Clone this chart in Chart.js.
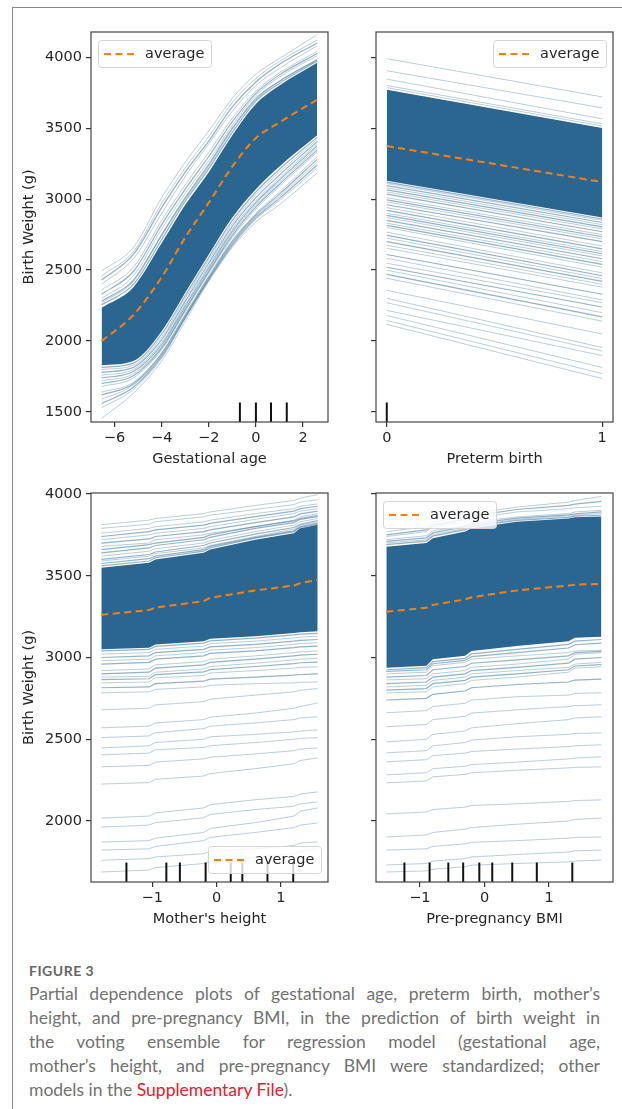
<!DOCTYPE html>
<html>
<head>
<meta charset="utf-8">
<script src="https://cdn.jsdelivr.net/npm/chart.js@4.4.1/dist/chart.umd.min.js"></script>
<style>
  body { margin: 0; background: #fff; width: 622px; height: 1109px; position: relative; overflow: hidden; }
  canvas { position: absolute; }
  #frame { position: absolute; left: 12px; top: 7px; width: 620px; height: 1110px;
           border-left: 1px solid #8a8a8a; border-top: 1px solid #8a8a8a; }
  #caption { position: absolute; left: 29px; top: 962px; width: 571px;
             font-family: Lato, sans-serif; color: #727272; }
  #caption .fig { font-size: 14px; font-weight: 700; letter-spacing: 0.5px; line-height: 18px; color: #666; }
  #caption .ln { font-size: 17.5px; line-height: 24px; white-space: nowrap;
                 text-align: justify; text-align-last: justify; }
  #caption .ln.last { text-align: left; text-align-last: left; }
  #caption .ln.first { margin-top: 2px; }
  .red { color: #e0202a; }
</style>
</head>
<body>
<div id="frame"></div>
<canvas id="c1" width="330" height="480" style="left:0;top:0"></canvas>
<canvas id="c2" width="292" height="480" style="left:330px;top:0"></canvas>
<canvas id="c3" width="330" height="460" style="left:0;top:480px"></canvas>
<canvas id="c4" width="292" height="460" style="left:330px;top:480px"></canvas>
<div id="caption">
  <div class="fig">FIGURE 3</div>
  <div class="ln first">Partial dependence plots of gestational age, preterm birth, mother’s</div>
  <div class="ln">height, and pre-pregnancy BMI, in the prediction of birth weight in</div>
  <div class="ln">the voting ensemble for regression model (gestational age,</div>
  <div class="ln">mother’s height, and pre-pregnancy BMI were standardized; other</div>
  <div class="ln last">models in the <span class="red">Supplementary File</span>).</div>
</div>
<script>
// gestational age panel
const gaX = [-6.55, -5.2, -4.0, -3.0, -2.0, -1.0, 0, 1.0, 2.6];
const gaAvg = [2000, 2184, 2450, 2730, 2975, 3230, 3430, 3540, 3700];
const gaHi = [2235, 2380, 2690, 2960, 3190, 3450, 3670, 3800, 3960];
const gaLo = [1830, 1860, 2070, 2340, 2610, 2870, 3070, 3230, 3450];
const gaLines = [
    [2494, 2660, 3010, 3260, 3480, 3710, 3880, 3990, 4158],
    [2460, 2630, 2970, 3220, 3440, 3680, 3850, 3970, 4120],
    [2400, 2580, 2900, 3160, 3390, 3620, 3800, 3920, 4080],
    [2360, 2520, 2850, 3100, 3330, 3570, 3760, 3890, 4040],
    [2300, 2460, 2790, 3040, 3270, 3520, 3730, 3860, 4010],
    [2270, 2420, 2740, 3000, 3230, 3490, 3700, 3830, 3985],
    [1800, 1830, 2030, 2300, 2570, 2830, 3030, 3190, 3420],
    [1760, 1800, 1990, 2260, 2530, 2790, 2990, 3150, 3390],
    [1720, 1770, 1960, 2230, 2500, 2760, 2960, 3120, 3360],
    [1680, 1740, 1940, 2210, 2480, 2730, 2930, 3090, 3330],
    [1640, 1710, 1920, 2190, 2460, 2710, 2900, 3050, 3300],
    [1590, 1690, 1900, 2170, 2440, 2690, 2880, 3020, 3260],
    [1530, 1660, 1880, 2160, 2430, 2670, 2860, 2990, 3220],
    [1456, 1633, 1860, 2140, 2420, 2660, 2840, 2960, 3184]
];
const gaEdge = [
    [2255, 2400, 2715, 2985, 3215, 3470, 3690, 3815, 3972],
    [2280, 2430, 2750, 3010, 3245, 3500, 3710, 3830, 3980],
    [2330, 2490, 2820, 3070, 3300, 3545, 3745, 3875, 4025],
    [2430, 2610, 2940, 3190, 3410, 3650, 3825, 3950, 4100],
    [1815, 1845, 2050, 2320, 2590, 2850, 3050, 3210, 3435],
    [1780, 1815, 2010, 2280, 2550, 2810, 3010, 3170, 3405],
    [1740, 1785, 1975, 2245, 2515, 2775, 2975, 3135, 3375],
    [1700, 1755, 1950, 2220, 2490, 2745, 2945, 3105, 3345],
    [1620, 1700, 1910, 2180, 2450, 2700, 2890, 3035, 3280],
    [1560, 1675, 1890, 2165, 2435, 2680, 2870, 3005, 3240]
];
const gaDeciles = [-0.68, 0, 0.64, 1.31];
const gaTicks = [-6, -4, -2, 0, 2];

// preterm birth panel
const ptX = [0, 1];
const ptAvg = [3374, 3120];
const ptHi = [3770, 3500];
const ptLo = [3130, 2870];
const ptLines = [
    [3989, 3720], [3904, 3643], [3845, 3565], [3800, 3530], [3785, 3515],
    [3110, 2850], [3080, 2820], [3050, 2790], [3010, 2750], [2980, 2720],
    [2940, 2670], [2900, 2630], [2870, 2600], [2830, 2560], [2800, 2520],
    [2767, 2480], [2725, 2440], [2675, 2400], [2654, 2380], [2583, 2290],
    [2548, 2270], [2499, 2200], [2442, 2140], [2357, 2050], [2301, 1955],
    [2270, 1930], [2216, 1898], [2180, 1814], [2145, 1771], [2117, 1736]
];
const ptEdge = [
    [3120, 2860], [3095, 2835], [3065, 2805], [3035, 2770], [2995, 2735],
    [2960, 2700], [2920, 2650], [2885, 2615], [2850, 2580], [2815, 2540],
    [2745, 2460], [2700, 2420], [2610, 2330], [2520, 2240], [2470, 2170]
];
const ptDeciles = [0];
const ptTicks = [0, 1];

// mother's height panel
const mhX = [-1.79, -1.05, -0.95, -0.2, -0.1, 0.6, 1.2, 1.3, 1.57];
const mhAvg = [3261, 3290, 3305, 3345, 3365, 3410, 3440, 3455, 3475];
const mhHi = [3549, 3580, 3600, 3640, 3660, 3720, 3760, 3790, 3812];
const mhLo = [3050, 3060, 3080, 3100, 3115, 3130, 3150, 3155, 3160];
const mhLines = [
    [3812, 3840, 3850, 3880, 3890, 3930, 3960, 3975, 3996],
    [3790, 3815, 3830, 3860, 3870, 3905, 3935, 3950, 3965],
    [3760, 3790, 3800, 3830, 3840, 3880, 3910, 3925, 3940],
    [3720, 3750, 3760, 3790, 3800, 3845, 3880, 3895, 3910],
    [3680, 3700, 3720, 3750, 3760, 3800, 3840, 3860, 3880],
    [3620, 3650, 3665, 3700, 3715, 3770, 3810, 3830, 3850],
    [3590, 3620, 3635, 3670, 3685, 3740, 3785, 3810, 3830],
    [3020, 3030, 3050, 3070, 3085, 3100, 3120, 3125, 3130],
    [2980, 2990, 3010, 3030, 3045, 3060, 3080, 3085, 3090],
    [2920, 2930, 2955, 2975, 2990, 3010, 3030, 3035, 3040],
    [2880, 2885, 2910, 2930, 2945, 2965, 2985, 2990, 2995],
    [2845, 2850, 2875, 2890, 2905, 2920, 2935, 2940, 2943],
    [2784, 2790, 2805, 2820, 2830, 2840, 2845, 2848, 2850],
    [2680, 2690, 2710, 2730, 2745, 2770, 2790, 2800, 2810],
    [2570, 2580, 2600, 2620, 2635, 2660, 2690, 2700, 2722],
    [2510, 2520, 2540, 2565, 2580, 2600, 2620, 2630, 2637],
    [2447, 2460, 2480, 2500, 2515, 2530, 2545, 2550, 2557],
    [2405, 2415, 2435, 2450, 2460, 2480, 2500, 2505, 2510],
    [2332, 2340, 2360, 2380, 2390, 2410, 2430, 2440, 2447],
    [2226, 2235, 2255, 2275, 2290, 2320, 2350, 2370, 2386],
    [2018, 2030, 2050, 2080, 2100, 2130, 2150, 2165, 2178],
    [1963, 1975, 1990, 2020, 2040, 2070, 2090, 2105, 2116],
    [1871, 1880, 1895, 1930, 1955, 1990, 2030, 2060, 2080],
    [1822, 1830, 1845, 1880, 1900, 1930, 1960, 1975, 1988],
    [1760, 1770, 1780, 1800, 1815, 1830, 1850, 1865, 1872],
    [1688, 1700, 1715, 1740, 1755, 1780, 1800, 1815, 1830]
];
const mhEdge = [
    [3560, 3590, 3610, 3650, 3670, 3730, 3770, 3795, 3815],
    [3575, 3605, 3620, 3660, 3680, 3735, 3775, 3800, 3822],
    [3600, 3630, 3645, 3685, 3700, 3755, 3795, 3815, 3838],
    [3640, 3670, 3685, 3720, 3735, 3790, 3825, 3845, 3862],
    [3660, 3690, 3700, 3735, 3750, 3800, 3835, 3850, 3870],
    [3700, 3725, 3740, 3770, 3780, 3825, 3860, 3878, 3895],
    [3740, 3770, 3780, 3810, 3820, 3862, 3895, 3910, 3925],
    [3040, 3050, 3068, 3088, 3102, 3118, 3138, 3143, 3148],
    [3000, 3010, 3030, 3050, 3065, 3080, 3100, 3105, 3110],
    [2960, 2970, 2990, 3010, 3025, 3040, 3060, 3065, 3070],
    [2900, 2910, 2935, 2955, 2970, 2990, 3010, 3015, 3020],
    [2865, 2870, 2895, 2912, 2926, 2945, 2962, 2968, 2972],
    [2815, 2820, 2840, 2855, 2868, 2880, 2892, 2896, 2900]
];
const mhDeciles = [-1.40, -0.78, -0.57, -0.17, 0.22, 0.40, 0.79, 1.19];
const mhTicks = [-1, 0, 1];

// pre-pregnancy BMI panel
const bmiX = [-1.52, -0.9, -0.8, -0.3, -0.2, 0.5, 1.3, 1.4, 1.81];
const bmiAvg = [3280, 3304, 3322, 3355, 3368, 3410, 3440, 3445, 3451];
const bmiHi = [3677, 3700, 3730, 3770, 3790, 3830, 3850, 3858, 3862];
const bmiLo = [2937, 2950, 2990, 3010, 3040, 3070, 3100, 3120, 3127];
const bmiLines = [
    [3770, 3800, 3830, 3860, 3880, 3920, 3950, 3960, 3985],
    [3740, 3770, 3800, 3830, 3850, 3890, 3910, 3915, 3925],
    [3720, 3745, 3775, 3805, 3825, 3860, 3880, 3890, 3900],
    [3700, 3720, 3750, 3790, 3805, 3845, 3865, 3870, 3880],
    [2900, 2910, 2950, 2970, 2990, 3010, 3030, 3040, 3045],
    [2863, 2870, 2900, 2920, 2940, 2960, 2990, 3020, 3029],
    [2820, 2830, 2860, 2880, 2900, 2920, 2940, 2960, 2970],
    [2784, 2790, 2820, 2840, 2860, 2880, 2910, 2935, 2943],
    [2662, 2675, 2700, 2720, 2740, 2760, 2770, 2780, 2784],
    [2576, 2590, 2620, 2640, 2660, 2680, 2700, 2705, 2711],
    [2484, 2500, 2530, 2550, 2570, 2595, 2620, 2630, 2637],
    [2417, 2430, 2460, 2480, 2495, 2515, 2530, 2535, 2539],
    [2362, 2375, 2400, 2415, 2425, 2440, 2455, 2460, 2466],
    [2282, 2295, 2320, 2335, 2345, 2360, 2380, 2385, 2392],
    [2233, 2245, 2270, 2285, 2295, 2310, 2325, 2328, 2331],
    [2043, 2055, 2070, 2085, 2095, 2105, 2120, 2125, 2129],
    [1902, 1915, 1930, 1950, 1960, 1980, 2000, 2010, 2018],
    [1822, 1830, 1845, 1860, 1870, 1880, 1895, 1900, 1902],
    [1731, 1740, 1755, 1770, 1780, 1795, 1810, 1818, 1822],
    [1688, 1695, 1705, 1720, 1730, 1740, 1750, 1755, 1761]
];
const bmiEdge = [
    [3690, 3712, 3742, 3782, 3800, 3838, 3857, 3864, 3870],
    [3710, 3732, 3762, 3800, 3815, 3852, 3872, 3878, 3890],
    [3750, 3780, 3810, 3845, 3865, 3905, 3930, 3938, 3955],
    [2925, 2938, 2975, 2995, 3022, 3050, 3080, 3100, 3110],
    [2915, 2925, 2962, 2982, 3005, 3030, 3058, 3078, 3088],
    [2880, 2890, 2925, 2945, 2965, 2985, 3010, 3030, 3038],
    [2840, 2850, 2880, 2900, 2920, 2940, 2965, 2990, 3000],
    [2800, 2810, 2840, 2860, 2880, 2900, 2925, 2948, 2956],
    [2740, 2750, 2775, 2795, 2815, 2835, 2850, 2862, 2868]
];
const bmiDeciles = [-1.24, -0.85, -0.56, -0.33, -0.08, 0.12, 0.43, 0.81, 1.36];
const bmiTicks = [-1, 0, 1];

const topYTicks = [1500, 2000, 2500, 3000, 3500, 4000];
const bottomYTicks = [2000, 2500, 3000, 3500, 4000];

const font = { family: '"DejaVu Sans", sans-serif', size: 14.5 };
const ink = '#262626';
const denseBlue = '#2a6690';
const lightBlue = 'rgba(42,102,144,0.32)';
const edgeBlue = 'rgba(42,102,144,0.5)';
const avgOrange = '#ff7f0e';

function pts(xs, ys) {
    return xs.map((x, i) => ({ x: x, y: ys[i] }));
}

function minus(v) {
    return String(v).replace('-', '\u2212');
}

const framePlugin = {
    id: 'frame',
    afterDraw(chart) {
        const a = chart.chartArea, c = chart.ctx;
        c.save();
        c.strokeStyle = '#444';
        c.lineWidth = 1.2;
        c.strokeRect(a.left, a.top, a.right - a.left, a.bottom - a.top);
        c.restore();
    }
};

const rugPlugin = {
    id: 'rug',
    afterDatasetsDraw(chart, args, opts) {
        const a = chart.chartArea, c = chart.ctx, xs = chart.scales.x;
        const h = (a.bottom - a.top) * 0.05;
        c.save();
        c.strokeStyle = '#111';
        c.lineWidth = 2;
        opts.values.forEach((v) => {
            const px = xs.getPixelForValue(v);
            c.beginPath();
            c.moveTo(px, a.bottom);
            c.lineTo(px, a.bottom - h);
            c.stroke();
        });
        c.restore();
    }
};

const legendPlugin = {
    id: 'avgLegend',
    afterDraw(chart, args, opts) {
        const a = chart.chartArea, c = chart.ctx;
        const w = 113, h = 27;
        const x = opts.corner.includes('l') ? a.left + 7 : a.right - 7 - w;
        const y = opts.corner.includes('t') ? a.top + 8 : a.bottom - 9 - h;
        c.save();
        c.fillStyle = 'rgba(255,255,255,0.8)';
        c.strokeStyle = '#d4d4d4';
        c.lineWidth = 1;
        c.beginPath();
        c.roundRect(x + 0.5, y + 0.5, w, h, 3);
        c.fill();
        c.stroke();
        c.strokeStyle = avgOrange;
        c.lineWidth = 2;
        c.setLineDash([7, 4.5]);
        c.beginPath();
        c.moveTo(x + 6, y + h / 2 + 0.5);
        c.lineTo(x + 36, y + h / 2 + 0.5);
        c.stroke();
        c.setLineDash([]);
        c.fillStyle = ink;
        c.font = '14.5px "DejaVu Sans"';
        c.textBaseline = 'middle';
        c.fillText('average', x + 47, y + h / 2 + 1);
        c.restore();
    }
};

function makeChart(id, cfg) {
    const line = { pointRadius: 0, fill: false, cubicInterpolationMode: cfg.smooth ? 'monotone' : 'default' };
    const datasets = [
        Object.assign({ data: pts(cfg.xs, cfg.avg), borderColor: avgOrange, borderWidth: 2, borderDash: [7, 4.5] }, line),
        Object.assign({}, line, { data: pts(cfg.xs, cfg.hi), borderWidth: 0, borderColor: 'rgba(0,0,0,0)', fill: '+1', backgroundColor: denseBlue }),
        Object.assign({ data: pts(cfg.xs, cfg.lo), borderWidth: 0, borderColor: 'rgba(0,0,0,0)' }, line)
    ];
    cfg.edge.forEach((l) => {
        datasets.push(Object.assign({ data: pts(cfg.xs, l), borderColor: edgeBlue, borderWidth: 1.2 }, line));
    });
    cfg.lines.forEach((l) => {
        datasets.push(Object.assign({ data: pts(cfg.xs, l), borderColor: lightBlue, borderWidth: 1 }, line));
    });

    return new Chart(document.getElementById(id), {
        type: 'line',
        data: { datasets },
        plugins: [rugPlugin, framePlugin, legendPlugin],
        options: {
            responsive: false,
            animation: false,
            devicePixelRatio: 1,
            layout: { padding: cfg.padding },
            plugins: {
                legend: { display: false },
                tooltip: { enabled: false },
                rug: { values: cfg.deciles },
                avgLegend: { corner: cfg.corner }
            },
            scales: {
                x: {
                    type: 'linear',
                    min: cfg.xMin,
                    max: cfg.xMax,
                    afterBuildTicks: (s) => { s.ticks = cfg.xTicks.map((v) => ({ value: v })); },
                    afterFit: (s) => { s.height = 46; },
                    ticks: { font, color: ink, padding: 3, maxRotation: 0, autoSkip: false, callback: (v) => minus(v) },
                    grid: { drawOnChartArea: false, drawTicks: true, tickLength: 5, color: '#333', lineWidth: 1.2 },
                    border: { display: false },
                    title: { display: true, text: cfg.xTitle, font, color: ink, padding: 0 }
                },
                y: {
                    type: 'linear',
                    min: cfg.yMin,
                    max: cfg.yMax,
                    afterBuildTicks: (s) => { s.ticks = cfg.yTicks.map((v) => ({ value: v })); },
                    afterFit: (s) => { s.width = cfg.yWidth; },
                    ticks: { font, color: ink, padding: 4, autoSkip: false, callback: (v) => (cfg.yLabels ? String(v) : '') },
                    grid: { drawOnChartArea: false, drawTicks: true, tickLength: 5, color: '#333', lineWidth: 1.2 },
                    border: { display: false },
                    title: { display: cfg.yLabels, text: 'Birth Weight (g)', font, color: ink, padding: { top: 21, bottom: 0 } }
                }
            }
        }
    });
}

makeChart('c1', {
    xs: gaX, avg: gaAvg, hi: gaHi, lo: gaLo, lines: gaLines, edge: gaEdge, deciles: gaDeciles, smooth: true,
    xMin: -7.0, xMax: 3.06, xTicks: gaTicks, xTitle: 'Gestational age',
    yMin: 1430, yMax: 4177, yTicks: topYTicks, yLabels: true, yWidth: 91,
    padding: { top: 32, left: 0, right: 2, bottom: 12 }, corner: 'tl'
});
makeChart('c2', {
    xs: ptX, avg: ptAvg, hi: ptHi, lo: ptLo, lines: ptLines, edge: ptEdge, deciles: ptDeciles, smooth: false,
    xMin: -0.05, xMax: 1.05, xTicks: ptTicks, xTitle: 'Preterm birth',
    yMin: 1430, yMax: 4177, yTicks: topYTicks, yLabels: false, yWidth: 46,
    padding: { top: 32, left: 0, right: 9, bottom: 12 }, corner: 'tr'
});
makeChart('c3', {
    xs: mhX, avg: mhAvg, hi: mhHi, lo: mhLo, lines: mhLines, edge: mhEdge, deciles: mhDeciles, smooth: false,
    xMin: -1.95, xMax: 1.73, xTicks: mhTicks, xTitle: 'Mother\'s height',
    yMin: 1627, yMax: 4006, yTicks: bottomYTicks, yLabels: true, yWidth: 91,
    padding: { top: 13, left: 0, right: 2, bottom: 12 }, corner: 'br'
});
makeChart('c4', {
    xs: bmiX, avg: bmiAvg, hi: bmiHi, lo: bmiLo, lines: bmiLines, edge: bmiEdge, deciles: bmiDeciles, smooth: false,
    xMin: -1.68, xMax: 1.99, xTicks: bmiTicks, xTitle: 'Pre-pregnancy BMI',
    yMin: 1627, yMax: 4006, yTicks: bottomYTicks, yLabels: false, yWidth: 46,
    padding: { top: 13, left: 0, right: 9, bottom: 12 }, corner: 'tl'
});
</script>
</body>
</html>
